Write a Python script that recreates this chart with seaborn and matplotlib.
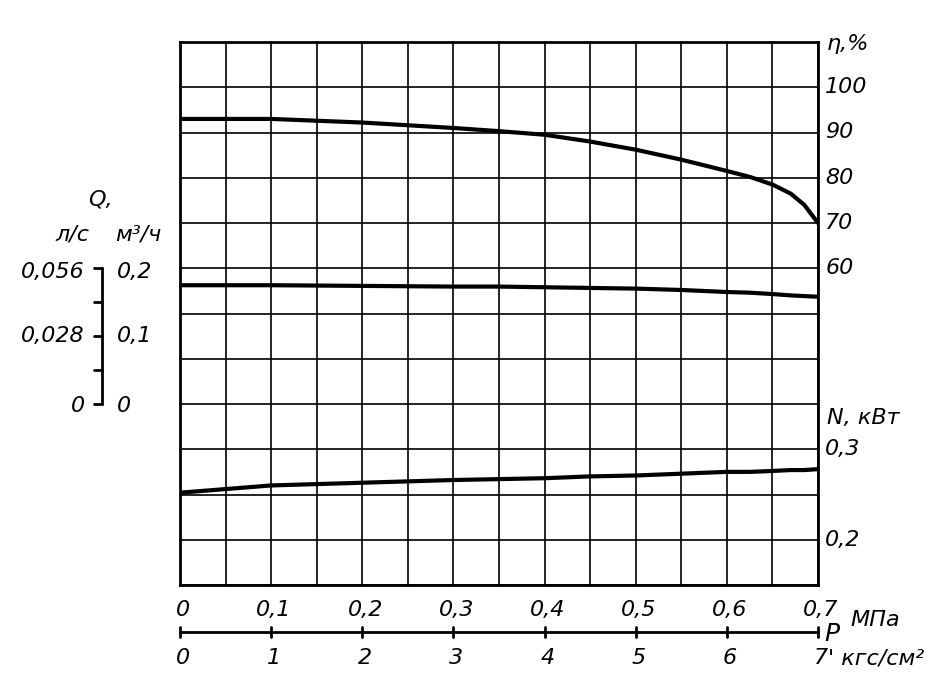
import matplotlib
matplotlib.use("Agg")
import matplotlib.pyplot as plt
import seaborn as sns
import numpy as np
import pandas as pd

sns.set_style("white")
plt.rcParams['font.family'] = ['DejaVu Sans']
plt.rcParams['text.color'] = 'black'

p_mpa = [0.0, 0.05, 0.1, 0.2, 0.3, 0.35, 0.4, 0.45, 0.5, 0.55, 0.6, 0.625, 0.65, 0.67, 0.685, 0.7]
eta = [93.0, 93.0, 93.0, 92.2, 91.0, 90.3, 89.5, 88.0, 86.2, 84.0, 81.5, 80.2, 78.5, 76.5, 74.0, 70.0]
q_m3h = [0.175, 0.175, 0.175, 0.174, 0.173, 0.173, 0.172, 0.171, 0.170, 0.168, 0.165, 0.164, 0.162, 0.160, 0.159, 0.158]
n_kw = [0.252, 0.256, 0.260, 0.263, 0.266, 0.267, 0.268, 0.270, 0.271, 0.273, 0.275, 0.275, 0.276, 0.277, 0.277, 0.278]
mpa_ticks = ["0", "0,1", "0,2", "0,3", "0,4", "0,5", "0,6", "0,7"]
kgs_ticks = ["0", "1", "2", "3", "4", "5", "6", "7"]
eta_ticks = [100, 90, 80, 70, 60]

# convert to grid row units (0 = bottom, 12 = top)
df = pd.DataFrame({
    "p": p_mpa,
    "eta": [7 + (e - 60) / 10 for e in eta],
    "q": [4 + q / 0.2 * 3 for q in q_m3h],
    "n": [1 + (n - 0.2) / 0.05 for n in n_kw],
})

fig = plt.figure(figsize=(9.51, 6.9), dpi=100)
ax = fig.add_axes([180/951, 1-585/690, 638/951, 543/690])
for col in ["eta", "q", "n"]:
    sns.lineplot(data=df, x="p", y=col, ax=ax, color="black", lw=3)
ax.set_xlim(0, 0.7)
ax.set_ylim(0, 12)
ax.set_xticks(np.arange(0, 0.701, 0.05))
ax.set_yticks(np.arange(0, 12.1, 1))
ax.grid(True, color="black", lw=1.2)
ax.set_xticklabels([]); ax.set_yticklabels([])
ax.set_xlabel(""); ax.set_ylabel("")
ax.tick_params(length=0)
for s in ax.spines.values():
    s.set_linewidth(2); s.set_color("black")

fs = 16
kw = dict(fontsize=fs, style="italic", color="black", clip_on=False)
T = ax.transData
for v in eta_ticks:
    ax.text(0.708, 7 + (v - 60) / 10, str(v), ha="left", va="center", transform=T, **kw)
ax.text(0.71, 11.95, "η,%", ha="left", va="center", transform=T, **kw)
ax.text(0.708, 3, "0,3", ha="left", va="center", transform=T, **kw)
ax.text(0.708, 1, "0,2", ha="left", va="center", transform=T, **kw)
ax.text(0.71, 3.7, "N, кВт", ha="left", va="center", transform=T, **kw)

fx = lambda px: px / 951
fy = lambda py: 1 - py / 690
tk = dict(fontsize=fs, style="italic", color="black")
fig.add_artist(plt.Line2D([fx(180), fx(818)], [fy(632), fy(632)], color="black", lw=2))
for i in range(8):
    x = fx(180 + i * 638 / 7)
    fig.add_artist(plt.Line2D([x, x], [fy(627), fy(637)], color="black", lw=2))
    fig.text(x + 0.003, fy(610), mpa_ticks[i], ha="center", va="center", **tk)
    fig.text(x + 0.003, fy(658), kgs_ticks[i], ha="center", va="center", **tk)
fig.text(fx(824), fy(634), "P", ha="left", va="center", fontsize=fs+2, style="italic", color="black")
fig.text(fx(850), fy(620), "МПа", ha="left", va="center", **tk)
fig.text(fx(828), fy(658), "' кгс/см²", ha="left", va="center", **tk)

fig.add_artist(plt.Line2D([fx(102), fx(102)], [fy(268), fy(404)], color="black", lw=2))
for py in [268, 302, 336, 370, 404]:
    fig.add_artist(plt.Line2D([fx(94), fx(102)], [fy(py), fy(py)], color="black", lw=2))
for py, l, r in [(272, "0,056", "0,2"), (336, "0,028", "0,1"), (406, "0", "0")]:
    fig.text(fx(85), fy(py), l, ha="right", va="center", **tk)
    fig.text(fx(117), fy(py), r, ha="left", va="center", **tk)
fig.text(fx(100), fy(200), "Q,", ha="center", va="center", **tk)
fig.text(fx(72), fy(235), "л/с", ha="center", va="center", **tk)
fig.text(fx(138), fy(235), "м³/ч", ha="center", va="center", **tk)

fig.savefig("out.png", dpi=100)
